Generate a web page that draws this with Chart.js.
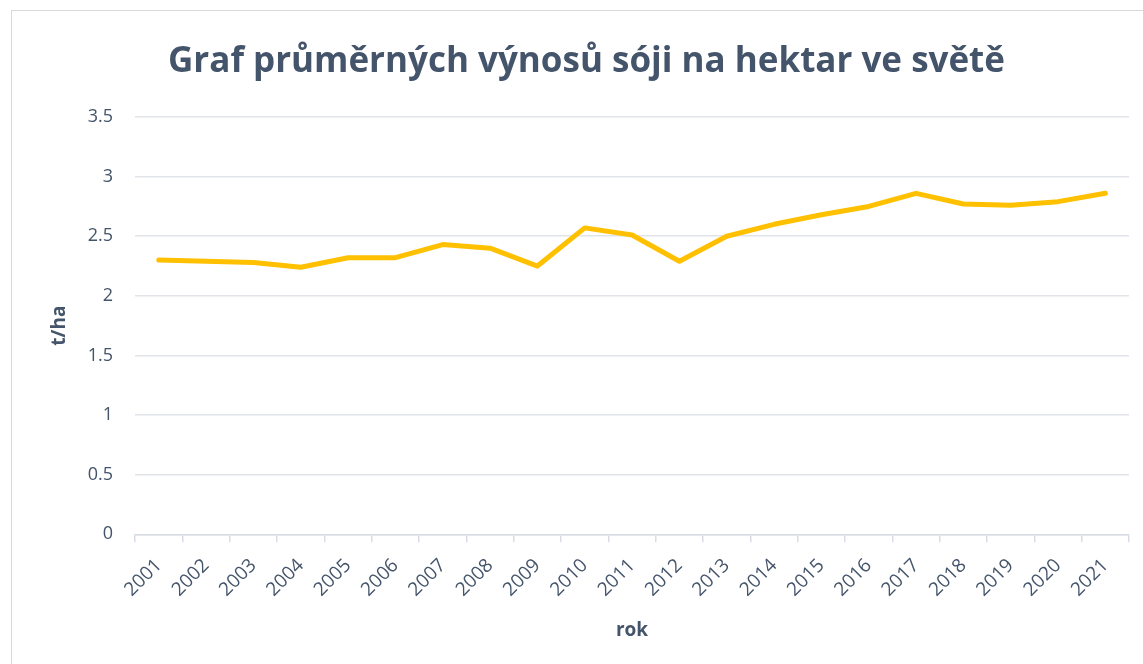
<!DOCTYPE html>
<html>
<head>
<meta charset="utf-8">
<script src="https://cdn.jsdelivr.net/npm/chart.js@4"></script>
<style>
  html, body { margin: 0; padding: 0; background: #fff; }
  #box { position: relative; width: 1143px; height: 664px; overflow: hidden; }
  #frame { position: absolute; left: 11px; top: 10px; width: 1140px; height: 660px; border: 1px solid #d9d9d9; box-sizing: border-box; }
  canvas { position: absolute; left: 0; top: 0; }
</style>
</head>
<body>
<div id="box">
  <div id="frame"></div>
  <canvas id="chart" width="1143" height="664"></canvas>
</div>
<script>
const roky = ['2001','2002','2003','2004','2005','2006','2007','2008','2009','2010','2011',
              '2012','2013','2014','2015','2016','2017','2018','2019','2020','2021'];
const vynosy = [2.30, 2.29, 2.28, 2.24, 2.32, 2.32, 2.43, 2.40, 2.25, 2.57, 2.51,
                2.29, 2.50, 2.60, 2.68, 2.75, 2.86, 2.77, 2.76, 2.79, 2.86];
const titulek = 'Graf průměrných výnosů sóji na hektar ve světě';
const osaY = 't/ha';
const osaX = 'rok';

const barva = '#44546a';
const font = 'Open Sans';

let ctx = document.getElementById('chart').getContext('2d');
let chart = new Chart(ctx, {
    type: 'line',
    data: {
        labels: roky,
        datasets: [{
            data: vynosy,
            borderColor: '#ffc000',
            borderWidth: 5,
            pointRadius: 0,
            tension: 0,
            borderCapStyle: 'round',
            borderJoinStyle: 'round'
        }]
    },
    options: {
        responsive: false,
        animation: false,
        layout: { padding: { left: 44, right: 14, top: 22, bottom: 14 } },
        plugins: {
            legend: { display: false },
            tooltip: { enabled: false },
            title: {
                display: true,
                text: titulek,
                color: barva,
                font: { family: font, size: 35, weight: 'bold' },
                padding: { top: 19, bottom: 34 }
            }
        },
        scales: {
            x: {
                offset: true,
                grid: { offset: true, drawOnChartArea: false, tickLength: 8, color: '#d9dde3', lineWidth: 1.5 },
                border: { color: '#d9dde3', width: 1.5 },
                ticks: { color: barva, font: { family: font, size: 19 }, minRotation: 45, maxRotation: 45, padding: 12 },
                title: { display: true, text: osaX, color: barva, font: { family: font, size: 19, weight: 'bold' }, padding: { top: 6, bottom: 8 } }
            },
            y: {
                min: 0,
                max: 3.5,
                ticks: {
                    stepSize: 0.5, color: barva, font: { family: font, size: 18 }, padding: 22,
                    callback: v => String(v)
                },
                grid: { drawTicks: false, color: '#e1e4e9', lineWidth: 1.5 },
                border: { display: false },
                title: { display: true, text: osaY, color: barva, font: { family: font, size: 19, weight: 'bold' }, padding: { top: 4, bottom: -5 } }
            }
        }
    }
});
</script>
</body>
</html>
